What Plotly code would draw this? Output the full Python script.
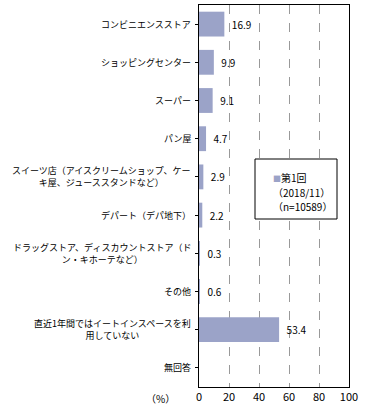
import plotly.graph_objects as go

categories = [
    "コンビニエンスストア",
    "ショッピングセンター",
    "スーパー",
    "パン屋",
    "スイーツ店（アイスクリームショップ、ケー<br>キ屋、ジューススタンドなど）",
    "デパート（デパ地下）",
    "ドラッグストア、ディスカウントストア（ド<br>ン・キホーテなど）",
    "その他",
    "直近1年間ではイートインスペースを利<br>用していない",
    "無回答",
]
values = [16.9, 9.9, 9.1, 4.7, 2.9, 2.2, 0.3, 0.6, 53.4, None]
x_ticks = [0, 20, 40, 60, 80, 100]
series_name = "第1回"
legend_lines = ["（2018/11）", "（n=10589）"]

FONT = "Noto Sans CJK JP"
BAR_COLOR = "#9BA3C8"

fig = go.Figure()
fig.add_trace(go.Bar(
    y=list(range(len(categories))),
    x=values,
    orientation="h",
    marker=dict(color=BAR_COLOR, line=dict(width=0)),
    width=0.65,
    text=[("  " + f"{v}") if v is not None else "" for v in values],
    textposition="outside",
    textfont=dict(family=FONT, size=10, color="black"),
    cliponaxis=False,
    showlegend=False,
    hoverinfo="skip",
))

annotations = []
for i, c in enumerate(categories):
    annotations.append(dict(
        x=0, xref="paper", xshift=-6, xanchor="right",
        y=i, yref="y", yanchor="middle",
        text=c, align="center", showarrow=False,
        font=dict(family=FONT, size=9, color="black"),
    ))
annotations.append(dict(
    x=0, xref="paper", xshift=-22, xanchor="right",
    y=0, yref="paper", yshift=-11, yanchor="middle",
    text="（%）", showarrow=False,
    font=dict(family=FONT, size=10, color="black"),
))

# legend box content (three lines)
legend_texts = [
    f"<span style='color:{BAR_COLOR};font-size:8px'>■</span>{series_name}",
    legend_lines[0],
    legend_lines[1],
]
legend_ys = [177, 192, 206]
for t, yy in zip(legend_texts, legend_ys):
    annotations.append(dict(
        x=(271 - 199) / 150, xref="paper", xanchor="left",
        y=(387 - yy) / 382, yref="paper", yanchor="middle",
        text=t, align="left", showarrow=False,
        font=dict(family=FONT, size=10, color="black"),
    ))

fig.add_shape(type="rect", xref="paper", yref="paper",
              x0=(255 - 199) / 150, x1=(337 - 199) / 150,
              y0=(387 - 219) / 382, y1=(387 - 159) / 382,
              line=dict(color="black", width=1), fillcolor="white", layer="above")

fig.update_layout(
    width=366, height=415,
    margin=dict(l=199, r=17, t=5, b=28),
    paper_bgcolor="white", plot_bgcolor="white",
    font=dict(family=FONT, size=10, color="black"),
    annotations=annotations,
    bargap=0.35,
)
fig.update_xaxes(
    range=[0, 100], tickvals=x_ticks, ticktext=[str(t) for t in x_ticks],
    showgrid=True, gridcolor="#999999", griddash="dash", gridwidth=1,
    showline=True, linecolor="black", linewidth=1, mirror=True,
    ticks="", zeroline=False, tickfont=dict(family=FONT, size=11),
    fixedrange=True,
)
fig.update_yaxes(
    range=[len(categories) - 0.5, -0.5],
    tickvals=list(range(len(categories))),
    showticklabels=False,
    showgrid=False, zeroline=False,
    showline=True, linecolor="black", linewidth=1, mirror=True,
    ticks="outside", ticklen=3, tickcolor="black",
)

fig.write_html("out.html", config={"displayModeBar": False},
               post_script="document.body.style.margin='0';")
